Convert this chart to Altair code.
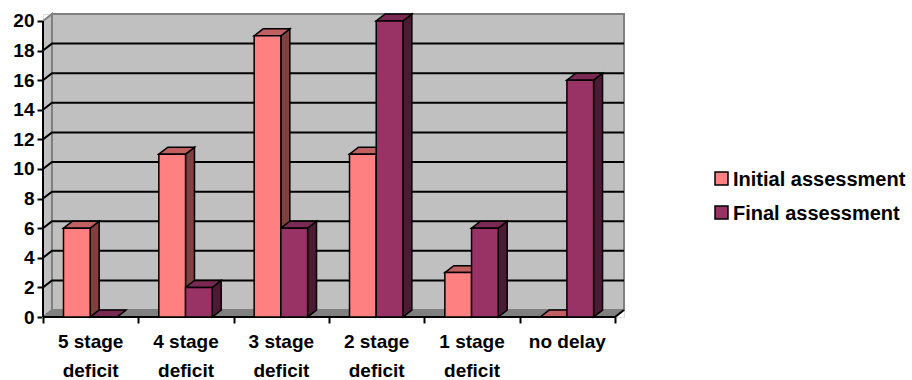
import altair as alt
import pandas as pd

# ---- data -------------------------------------------------------------
categories = ["5 stage\ndeficit", "4 stage\ndeficit", "3 stage\ndeficit",
              "2 stage\ndeficit", "1 stage\ndeficit", "no delay"]
series = ["Initial assessment", "Final assessment"]
initial = [6, 11, 19, 11, 3, 0]
final = [0, 2, 6, 20, 6, 16]
y_ticks = list(range(0, 21, 2))

# ---- styling ----------------------------------------------------------
FONT = "Liberation Sans"
front_colors = ["#FF8080", "#993366"]
top_colors = ["#C06060", "#7A2952"]
side_colors = ["#804040", "#4D1A33"]
WALL = "#C0C0C0"
WALL_EDGE = "#808080"
FLOOR = "#808080"

n = len(categories)
Y_TOP = 20
DEPTH_X = 0.094          # 3-D depth, in category units
DEPTH_Y = 0.47           # 3-D depth, in value units
X_MAX = n + DEPTH_X
Y_MAX = Y_TOP + DEPTH_Y
W, H = 581, 303
BAR_W = 0.28
BAR_START = [0.215, 0.495]

# legend placement (pixels from the plot origin)
LEG_X, LEG_Y, LEG_BOX, LEG_STEP = 672, 158, 13, 34

x_scale = alt.Scale(domain=[0, X_MAX], nice=False, zero=False)
y_scale = alt.Scale(domain=[0, Y_MAX], nice=False, zero=False)

# every layer carries the same axis definition so they merge into one
x_axis = alt.Axis(values=list(range(n + 1)), labels=False, domain=False,
                  grid=False, ticks=True, tickSize=6, tickWidth=2,
                  tickColor="black", title=None)
y_axis = alt.Axis(values=y_ticks, domain=False, grid=False, tickSize=6,
                  tickWidth=2, tickColor="black", labelFont=FONT,
                  labelFontSize=19, labelFontWeight="bold",
                  labelColor="black", labelPadding=3, title=None)


def X(f):
    return alt.X(f"{f}:Q", scale=x_scale, axis=x_axis, title=None)


def Y(f):
    return alt.Y(f"{f}:Q", scale=y_scale, axis=y_axis, title=None)


def X2(f):
    return alt.X2(f"{f}:Q")


def Y2(f):
    return alt.Y2(f"{f}:Q")


# ---- walls and floor --------------------------------------------------
back_df = pd.DataFrame([{"x": DEPTH_X, "x2": X_MAX, "y": DEPTH_Y, "y2": Y_MAX}])
back = alt.Chart(back_df).mark_rect(fill=WALL, stroke=WALL_EDGE, strokeWidth=2).encode(
    x=X("x"), x2=X2("x2"), y=Y("y"), y2=Y2("y2"))

left_df = pd.DataFrame([
    {"x": 0, "y": Y_TOP, "y2": 0},
    {"x": DEPTH_X, "y": Y_MAX, "y2": DEPTH_Y},
])
left_wall = alt.Chart(left_df).mark_area(
    fill=WALL, stroke=WALL_EDGE, strokeWidth=2, orient="vertical").encode(
    x=X("x"), y=Y("y"), y2=Y2("y2"))

floor_df = pd.DataFrame([
    {"x": 0, "y": 0, "y2": 0},
    {"x": DEPTH_X, "y": DEPTH_Y, "y2": 0},
    {"x": n, "y": DEPTH_Y, "y2": 0},
    {"x": n + DEPTH_X, "y": DEPTH_Y, "y2": DEPTH_Y},
])
floor = alt.Chart(floor_df).mark_area(
    fill=FLOOR, stroke=FLOOR, strokeWidth=1, orient="vertical").encode(
    x=X("x"), y=Y("y"), y2=Y2("y2"))

# gridlines run across the side wall and the back wall
grid_rows = []
for v in y_ticks[1:-1]:
    for k, (gx, gy) in enumerate([(0, v), (DEPTH_X, v + DEPTH_Y), (n + DEPTH_X, v + DEPTH_Y)]):
        grid_rows.append({"level": v, "k": k, "x": gx, "y": gy})
grid = alt.Chart(pd.DataFrame(grid_rows)).mark_line(
    color="black", strokeWidth=2).encode(
    x=X("x"), y=Y("y"), detail="level:N", order="k:Q")

# axis lines
y_line = alt.Chart(pd.DataFrame([{"x": 0, "y": 0, "y2": Y_TOP}])).mark_rule(
    color="black", strokeWidth=2).encode(x=X("x"), y=Y("y"), y2=Y2("y2"))
x_line_df = pd.DataFrame([
    {"k": 0, "x": 0, "y": 0},
    {"k": 1, "x": n, "y": 0},
    {"k": 2, "x": n + DEPTH_X, "y": DEPTH_Y},
])
x_line = alt.Chart(x_line_df).mark_line(color="black", strokeWidth=2).encode(
    x=X("x"), y=Y("y"), order="k:Q")

# ---- bars -------------------------------------------------------------
front_rows, side_rows, top_rows = [], [], []
for s, vals in enumerate([initial, final]):
    for i, v in enumerate(vals):
        x0 = i + BAR_START[s]
        x1 = x0 + BAR_W
        fid = f"{s}-{i}"
        front_rows.append({"series": series[s], "x0": x0, "x1": x1, "v": v, "base": 0,
                           "fill": front_colors[s]})
        for px, py, py2 in [(x1, v, 0), (x1 + DEPTH_X, v + DEPTH_Y, DEPTH_Y)]:
            side_rows.append({"face": fid, "x": px, "y": py, "y2": py2,
                              "fill": side_colors[s]})
        for px, py, py2 in [(x0, v, v), (x0 + DEPTH_X, v + DEPTH_Y, v),
                            (x1, v + DEPTH_Y, v), (x1 + DEPTH_X, v + DEPTH_Y, v + DEPTH_Y)]:
            top_rows.append({"face": fid, "x": px, "y": py, "y2": py2,
                             "fill": top_colors[s]})

sides = alt.Chart(pd.DataFrame(side_rows)).mark_area(
    stroke="black", strokeWidth=1.5, orient="vertical", strokeJoin="miter").encode(
    x=X("x"), y=Y("y"), y2=Y2("y2"), detail="face:N",
    fill=alt.Fill("fill:N", scale=None))

tops = alt.Chart(pd.DataFrame(top_rows)).mark_area(
    stroke="black", strokeWidth=1.5, orient="vertical", strokeJoin="miter").encode(
    x=X("x"), y=Y("y"), y2=Y2("y2"), detail="face:N",
    fill=alt.Fill("fill:N", scale=None))

fronts = alt.Chart(pd.DataFrame(front_rows)).mark_rect(
    stroke="black", strokeWidth=1.5).encode(
    x=X("x0"), x2=X2("x1"), y=Y("v"), y2=Y2("base"),
    fill=alt.Fill("fill:N", scale=None))

# ---- category labels --------------------------------------------------
label_df = pd.DataFrame({"label": categories,
                         "x": [i + 0.5 for i in range(n)],
                         "y": [0] * n})
labels = alt.Chart(label_df).mark_text(
    font=FONT, fontSize=19, fontWeight="bold", color="black",
    align="center", baseline="alphabetic", dy=31, lineBreak="\n",
    lineHeight=29).encode(x=X("x"), y=Y("y"), text="label:N")

# ---- legend: outlined swatch + label per series ------------------------
legend_layers = []
for k, (name, col) in enumerate(zip(series, front_colors)):
    top = LEG_Y + k * LEG_STEP
    entry = alt.Chart(pd.DataFrame([{"series": name}]))
    legend_layers.append(entry.mark_rect(fill=col, stroke="black", strokeWidth=1.5).encode(
        x=alt.value(LEG_X), x2=alt.value(LEG_X + LEG_BOX),
        y=alt.value(top), y2=alt.value(top + LEG_BOX)))
    legend_layers.append(entry.mark_text(
        font=FONT, fontSize=20, fontWeight="bold", color="black",
        align="left", baseline="middle").encode(
        x=alt.value(LEG_X + LEG_BOX + 5), y=alt.value(top + LEG_BOX / 2 + 1),
        text="series:N"))

chart = alt.layer(
    back, left_wall, floor, grid, y_line, x_line, sides, tops, fronts, labels,
    *legend_layers
).properties(
    width=W, height=H,
    autosize=alt.AutoSizeParams(type="none"),
    padding={"left": 43, "top": 14, "right": 912 - 43 - W, "bottom": 380 - 14 - H},
).configure_view(stroke=None).configure(font=FONT)

chart.save("out.html", embed_options={"renderer": "svg", "actions": False})
